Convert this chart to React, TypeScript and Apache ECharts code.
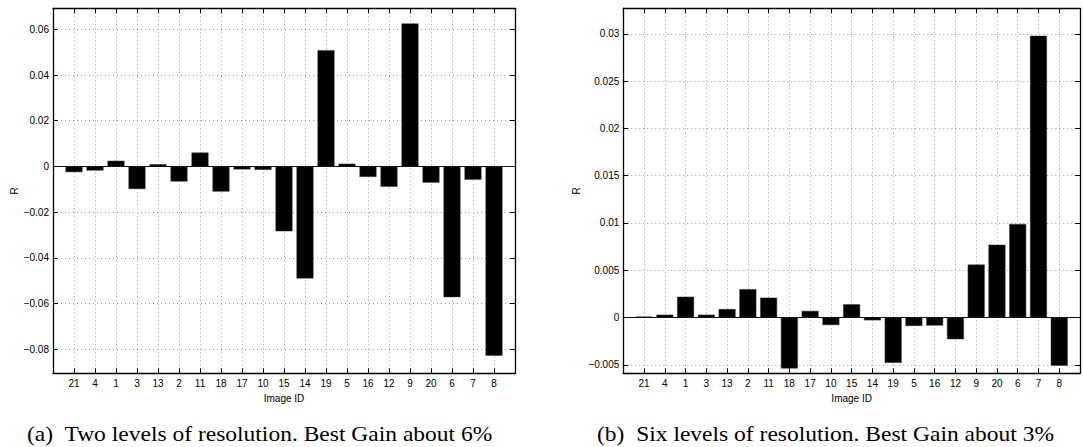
import React, { useEffect, useRef } from 'react';
import * as echarts from 'echarts';

const categories = ['21', '4', '1', '3', '13', '2', '11', '18', '17', '10', '15', '14', '19', '5', '16', '12', '9', '20', '6', '7', '8'];
const valuesTwoLevels = [-0.0025, -0.0018, 0.0025, -0.0099, 0.001, -0.0066, 0.0061, -0.011, -0.0013, -0.0015, -0.0284, -0.049, 0.0509, 0.0012, -0.0046, -0.0089, 0.0626, -0.0071, -0.0572, -0.0058, -0.0828];
const valuesSixLevels = [0.0001, 0.0003, 0.0022, 0.0003, 0.0009, 0.003, 0.0021, -0.0054, 0.0007, -0.0008, 0.0014, -0.0003, -0.0048, -0.0009, -0.00085, -0.0023, 0.0056, 0.0077, 0.0099, 0.0298, -0.0051];
const ticksTwoLevels = [-0.08, -0.06, -0.04, -0.02, 0, 0.02, 0.04, 0.06];
const ticksSixLevels = [-0.005, 0, 0.005, 0.01, 0.015, 0.02, 0.025, 0.03];
const captionA = '(a)  Two levels of resolution. Best Gain about 6%';
const captionB = '(b)  Six levels of resolution. Best Gain about 3%';

const SANS = '"Liberation Sans", Arial, Helvetica, sans-serif';
const SERIF = '"Liberation Serif", "Times New Roman", serif';

const fmtY = (v: number) => parseFloat(v.toFixed(4)).toString().replace('-', '\u2212');

function makeXAxes(gridIndex: number) {
  const common = {
    type: 'value' as const,
    gridIndex,
    min: 0,
    max: categories.length + 1,
    interval: 1,
    axisLine: { show: true, onZero: false, lineStyle: { color: '#000', width: 1.3 } },
    axisTick: { show: true, inside: true, length: 5, lineStyle: { color: '#000', width: 1 } },
  };
  return [
    {
      ...common,
      position: 'bottom',
      name: 'Image ID',
      nameLocation: 'middle',
      nameGap: 17,
      nameTextStyle: { fontFamily: SANS, fontSize: 10, color: '#000' },
      axisLabel: {
        show: true,
        margin: 5,
        fontFamily: SANS,
        fontSize: 10,
        color: '#000',
        formatter: (v: number) => categories[Math.round(v) - 1] ?? '',
      },
      splitLine: { show: true, lineStyle: { color: '#9a9a9a', type: [1, 3], width: 1 } },
    },
    {
      ...common,
      position: 'top',
      axisLabel: { show: false },
      splitLine: { show: false },
    },
  ];
}

function makeYAxes(gridIndex: number, min: number, max: number, ticks: number[], nameGap: number) {
  const common = {
    type: 'value' as const,
    gridIndex,
    min,
    max,
    axisLine: { show: true, onZero: false, lineStyle: { color: '#000', width: 1.3 } },
    axisTick: { show: true, inside: true, length: 5, customValues: ticks, lineStyle: { color: '#000', width: 1 } },
  };
  return [
    {
      ...common,
      position: 'left',
      name: 'R',
      nameLocation: 'middle',
      nameGap,
      nameTextStyle: { fontFamily: SANS, fontSize: 10, color: '#000' },
      axisLabel: {
        show: true,
        customValues: ticks,
        margin: 4,
        fontFamily: SANS,
        fontSize: 10,
        color: '#000',
        formatter: fmtY,
      },
      splitLine: { show: true, lineStyle: { color: '#9a9a9a', type: [1, 3], width: 1 } },
    },
    {
      ...common,
      position: 'right',
      axisLabel: { show: false },
      splitLine: { show: false },
    },
  ];
}

function makeSeries(values: number[], axisIndex: number) {
  return {
    type: 'bar',
    xAxisIndex: axisIndex,
    yAxisIndex: axisIndex,
    barWidth: 17,
    itemStyle: { color: '#000', borderColor: '#444', borderWidth: 0.5 },
    data: values.map((v, i) => [i + 1, v]),
    markLine: {
      silent: true,
      symbol: 'none',
      label: { show: false },
      lineStyle: { color: '#111', type: 'solid', width: 1 },
      data: [{ yAxis: 0 }],
    },
  };
}

export default function App() {
  const ref = useRef<HTMLDivElement>(null);
  useEffect(() => {
    const chart = echarts.init(ref.current!, null, { renderer: 'svg' });
    chart.setOption({
      animation: false,
      backgroundColor: '#fff',
      grid: [
        { left: 53, top: 8.3, width: 462, height: 365, containLabel: false },
        { left: 623.3, top: 8.3, width: 462, height: 365, containLabel: false },
      ],
      xAxis: [...makeXAxes(0), ...makeXAxes(1)],
      yAxis: [
        ...makeYAxes(0, -0.0905, 0.0692, ticksTwoLevels, 34),
        ...makeYAxes(1, -0.0059, 0.0327, ticksSixLevels, 42),
      ],
      series: [makeSeries(valuesTwoLevels, 0), makeSeries(valuesSixLevels, 2)],
      graphic: [
        {
          type: 'text',
          x: 27,
          y: 423,
          scaleX: 1.12,
          style: { text: captionA, fontFamily: SERIF, fontSize: 21, fill: '#000', textVerticalAlign: 'top' },
        },
        {
          type: 'text',
          x: 597,
          y: 423,
          scaleX: 1.12,
          style: { text: captionB, fontFamily: SERIF, fontSize: 21, fill: '#000', textVerticalAlign: 'top' },
        },
      ],
    });
    return () => chart.dispose();
  }, []);
  return (
    <div
      ref={ref}
      style={{ position: 'absolute', left: 0, top: 0, width: 1083, height: 447, background: '#fff' }}
    />
  );
}
